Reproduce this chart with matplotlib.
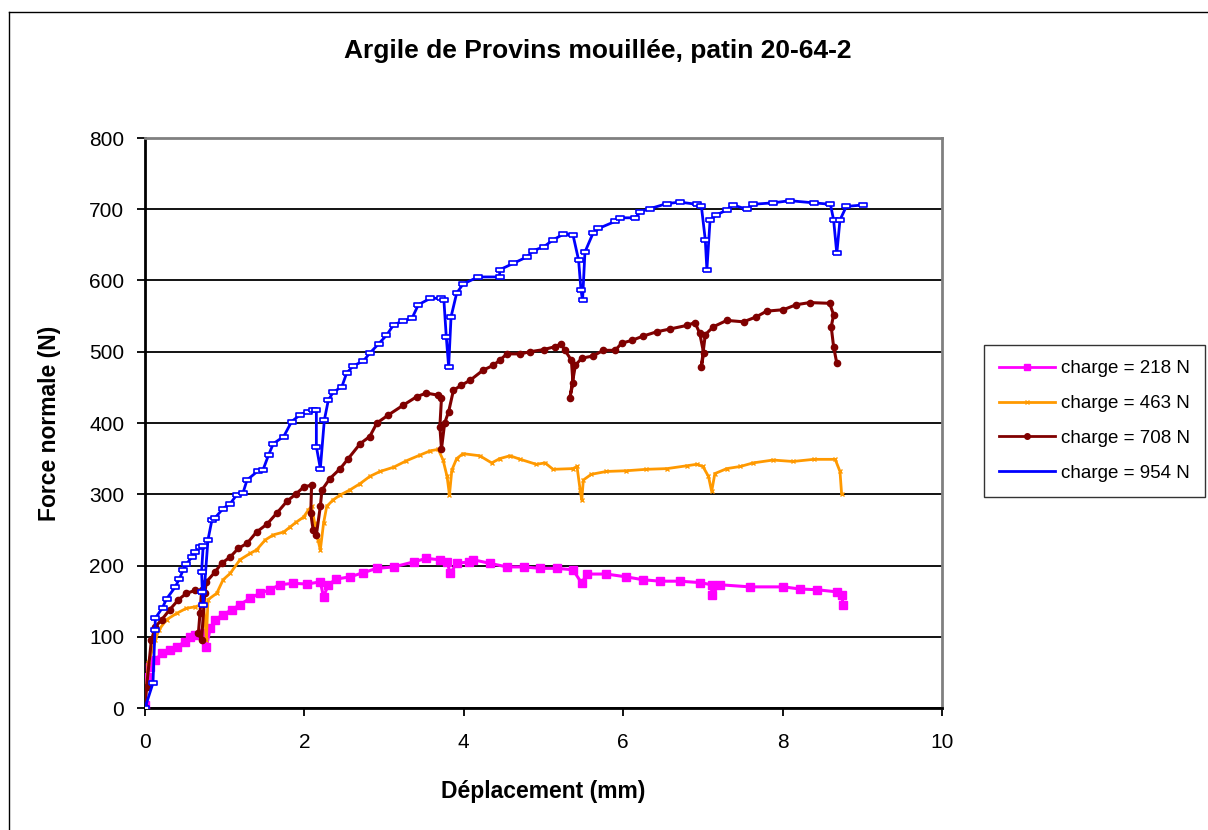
import matplotlib
matplotlib.use("Agg")
import matplotlib.pyplot as plt
from matplotlib.lines import Line2D
import numpy as np

plt.rcParams['font.family'] = ['Liberation Sans', 'DejaVu Sans']

title = "Argile de Provins mouillée, patin 20-64-2"
xlabel = "Déplacement (mm)"
ylabel = "Force normale (N)"
labels = ["charge = 218 N", "charge = 463 N", "charge = 708 N", "charge = 954 N"]

# charge = 218 N (deplacement mm, force N)
x_218 = [0, 0.02, 0.06, 0.13, 0.21, 0.31, 0.40, 0.50, 0.56, 0.63, 0.71, 0.77, 0.82, 0.88,
         0.98, 1.09, 1.19, 1.32, 1.44, 1.57, 1.69, 1.86, 2.03, 2.20, 2.24, 2.30, 2.40, 2.57,
         2.74, 2.91, 3.12, 3.37, 3.53, 3.70, 3.79, 3.83, 3.91, 4.06, 4.12, 4.33, 4.54, 4.75,
         4.96, 5.17, 5.37, 5.48, 5.54, 5.79, 6.04, 6.25, 6.46, 6.71, 6.96, 7.11, 7.11, 7.21,
         7.59, 8.01, 8.22, 8.43, 8.68, 8.74, 8.76]
y_218 = [4, 44, 58, 67, 77, 81, 86, 93, 100, 102, 105, 86, 112, 124,
         131, 138, 145, 154, 161, 166, 173, 175, 174, 177, 156, 173, 181, 184,
         190, 196, 198, 205, 210, 208, 205, 189, 203, 205, 208, 203, 198, 198,
         196, 196, 194, 175, 188, 188, 184, 180, 178, 178, 176, 173, 159, 173,
         170, 170, 167, 166, 163, 159, 145]

# charge = 463 N
x_463 = [0, 0.04, 0.13, 0.17, 0.27, 0.40, 0.52, 0.63, 0.73, 0.75, 0.77, 0.79, 0.90, 0.98,
         1.07, 1.19, 1.32, 1.40, 1.51, 1.61, 1.74, 1.82, 1.90, 1.99, 2.05, 2.09, 2.13, 2.17,
         2.20, 2.24, 2.28, 2.36, 2.45, 2.57, 2.70, 2.82, 2.95, 3.12, 3.28, 3.45, 3.58, 3.68,
         3.74, 3.79, 3.82, 3.85, 3.91, 3.99, 4.20, 4.35, 4.45, 4.58, 4.71, 4.91, 5.02, 5.12,
         5.37, 5.42, 5.46, 5.48, 5.50, 5.60, 5.79, 6.04, 6.29, 6.55, 6.80, 6.92, 7.00, 7.07,
         7.11, 7.15, 7.30, 7.47, 7.63, 7.88, 8.13, 8.39, 8.66, 8.72, 8.74]
y_463 = [2, 63, 95, 109, 124, 133, 140, 142, 146, 128, 95, 152, 161, 180,
         189, 208, 217, 222, 236, 243, 247, 254, 261, 268, 278, 283, 259, 236,
         222, 259, 283, 292, 299, 306, 315, 325, 332, 338, 347, 355, 361, 363,
         348, 325, 299, 334, 350, 357, 354, 344, 350, 354, 349, 342, 344, 335,
         336, 339, 306, 292, 320, 328, 332, 333, 335, 336, 340, 342, 339, 325,
         304, 329, 336, 339, 344, 348, 346, 349, 349, 332, 301]

# charge = 708 N
x_708 = [0, 0.02, 0.08, 0.13, 0.21, 0.31, 0.42, 0.52, 0.63, 0.71, 0.69, 0.67, 0.71, 0.75,
         0.77, 0.88, 0.96, 1.07, 1.17, 1.28, 1.40, 1.53, 1.65, 1.78, 1.90, 1.99, 2.09, 2.08,
         2.11, 2.15, 2.20, 2.22, 2.32, 2.45, 2.55, 2.70, 2.82, 2.91, 3.05, 3.24, 3.41, 3.53,
         3.68, 3.72, 3.70, 3.72, 3.76, 3.81, 3.87, 3.97, 4.08, 4.24, 4.37, 4.45, 4.54, 4.71,
         4.83, 5.00, 5.14, 5.22, 5.27, 5.35, 5.37, 5.33, 5.40, 5.48, 5.62, 5.75, 5.90, 5.98,
         6.11, 6.25, 6.42, 6.59, 6.80, 6.90, 6.96, 7.01, 6.98, 7.03, 7.13, 7.30, 7.51, 7.67,
         7.80, 8.01, 8.17, 8.34, 8.59, 8.64, 8.61, 8.64, 8.68]
y_708 = [2, 30, 95, 114, 124, 138, 152, 161, 165, 165, 133, 105, 95, 161,
         177, 191, 203, 212, 224, 231, 247, 258, 273, 290, 301, 310, 313, 273,
         250, 243, 283, 306, 322, 336, 350, 371, 381, 400, 411, 425, 437, 442,
         439, 435, 395, 364, 400, 416, 446, 453, 460, 474, 481, 488, 497, 497,
         500, 503, 507, 511, 502, 488, 456, 435, 481, 491, 494, 502, 502, 512,
         516, 522, 528, 532, 537, 541, 526, 498, 479, 524, 535, 544, 542, 549,
         557, 559, 566, 569, 568, 552, 535, 507, 484]

# charge = 954 N
x_954 = [0, 0.10, 0.125, 0.13, 0.22, 0.27, 0.38, 0.43, 0.48, 0.52, 0.59, 0.63, 0.69, 0.73,
         0.71, 0.72, 0.73, 0.79, 0.84, 0.88, 0.98, 1.07, 1.15, 1.23, 1.28, 1.42, 1.48, 1.55,
         1.61, 1.74, 1.84, 1.94, 2.05, 2.11, 2.15, 2.15, 2.20, 2.25, 2.30, 2.36, 2.47, 2.53,
         2.61, 2.74, 2.82, 2.93, 3.03, 3.12, 3.24, 3.35, 3.43, 3.58, 3.72, 3.75, 3.78, 3.81,
         3.84, 3.91, 3.99, 4.18, 4.45, 4.45, 4.62, 4.79, 4.87, 5.00, 5.12, 5.25, 5.37, 5.44,
         5.47, 5.49, 5.52, 5.62, 5.69, 5.90, 5.96, 6.15, 6.21, 6.34, 6.55, 6.71, 6.92, 6.98,
         7.03, 7.05, 7.09, 7.17, 7.30, 7.38, 7.55, 7.63, 7.88, 8.09, 8.39, 8.60, 8.64, 8.68,
         8.72, 8.80, 9.01]
y_954 = [0, 35, 110, 126, 141, 153, 170, 181, 194, 202, 212, 219, 226, 228,
         191, 163, 145, 236, 264, 267, 280, 287, 299, 302, 320, 333, 334, 355,
         371, 381, 402, 411, 416, 418, 418, 367, 336, 404, 432, 443, 451, 470,
         480, 487, 498, 511, 523, 538, 543, 547, 566, 575, 575, 573, 521, 479,
         549, 582, 595, 605, 605, 615, 624, 633, 642, 647, 657, 665, 664, 629,
         587, 572, 640, 666, 673, 683, 688, 688, 696, 701, 708, 710, 707, 705,
         657, 615, 685, 692, 699, 706, 700, 707, 709, 712, 709, 707, 685, 638,
         685, 704, 706]

colors = ['#FF00FF', '#FF9900', '#800000', '#0000FF']
rect = [(-1, -0.5), (1, -0.5), (1, 0.5), (-1, 0.5), (-1, -0.5)]

fig = plt.figure(figsize=(12.08, 8.30), dpi=100)
ax = fig.add_axes([145/1208, 1 - 708/830, (942 - 145)/1208, (708 - 138)/830])

ax.plot(x_218, y_218, color=colors[0], lw=2.2, marker='s', ms=6, mec=colors[0], zorder=3)
ax.plot(x_463, y_463, color=colors[1], lw=2, marker='x', ms=3.5, mew=1, zorder=4)
ax.plot(x_708, y_708, color=colors[2], lw=2.2, marker='o', ms=4.5, zorder=5)
ax.plot(x_954, y_954, color=colors[3], lw=2, marker=rect, ms=5.5, mfc='white', mec=colors[3],
        mew=1.2, zorder=6)

ax.set_xlim(0, 10)
ax.set_ylim(0, 800)
ax.set_xticks(np.arange(0, 11, 2))
ax.set_yticks(np.arange(0, 801, 100))
ax.yaxis.grid(True, color='black', lw=1.3)
ax.set_axisbelow(True)
for s in ['top', 'right']:
    ax.spines[s].set_color('#808080')
    ax.spines[s].set_linewidth(2)
for s in ['left', 'bottom']:
    ax.spines[s].set_color('black')
    ax.spines[s].set_linewidth(2)
ax.tick_params(axis='both', direction='out', length=6, width=1.3, labelsize=15)
ax.tick_params(axis='x', pad=12)
ax.tick_params(axis='y', pad=9)

ax.set_xlabel(xlabel, fontsize=16.5, fontweight='bold', labelpad=20)
ax.set_ylabel(ylabel, fontsize=16.5, fontweight='bold', labelpad=20)
fig.text(598/1208, 1 - 51/830, title, fontsize=19, fontweight='bold', ha='center', va='center')

handles = [
    Line2D([], [], color=colors[0], lw=2, marker='s', ms=5),
    Line2D([], [], color=colors[1], lw=2, marker='x', ms=3.5),
    Line2D([], [], color=colors[2], lw=2, marker='o', ms=4),
    Line2D([], [], color=colors[3], lw=2),
]
leg = fig.legend(handles, labels, loc='upper left',
                 bbox_to_anchor=(984/1208, 1 - 345/830), fontsize=13.5,
                 frameon=True, fancybox=False, handlelength=3.0, handletextpad=0.3,
                 labelspacing=0.95, borderpad=0.8, borderaxespad=0)
leg.get_frame().set_edgecolor('black')
leg.get_frame().set_linewidth(1)

# outer chart border (top and left visible)
fig.add_artist(Line2D([9/1208, 1], [1 - 12/830, 1 - 12/830], color='black', lw=1,
                      transform=fig.transFigure))
fig.add_artist(Line2D([9/1208, 9/1208], [0, 1 - 12/830], color='black', lw=1,
                      transform=fig.transFigure))

fig.savefig('out.png', dpi=100)
